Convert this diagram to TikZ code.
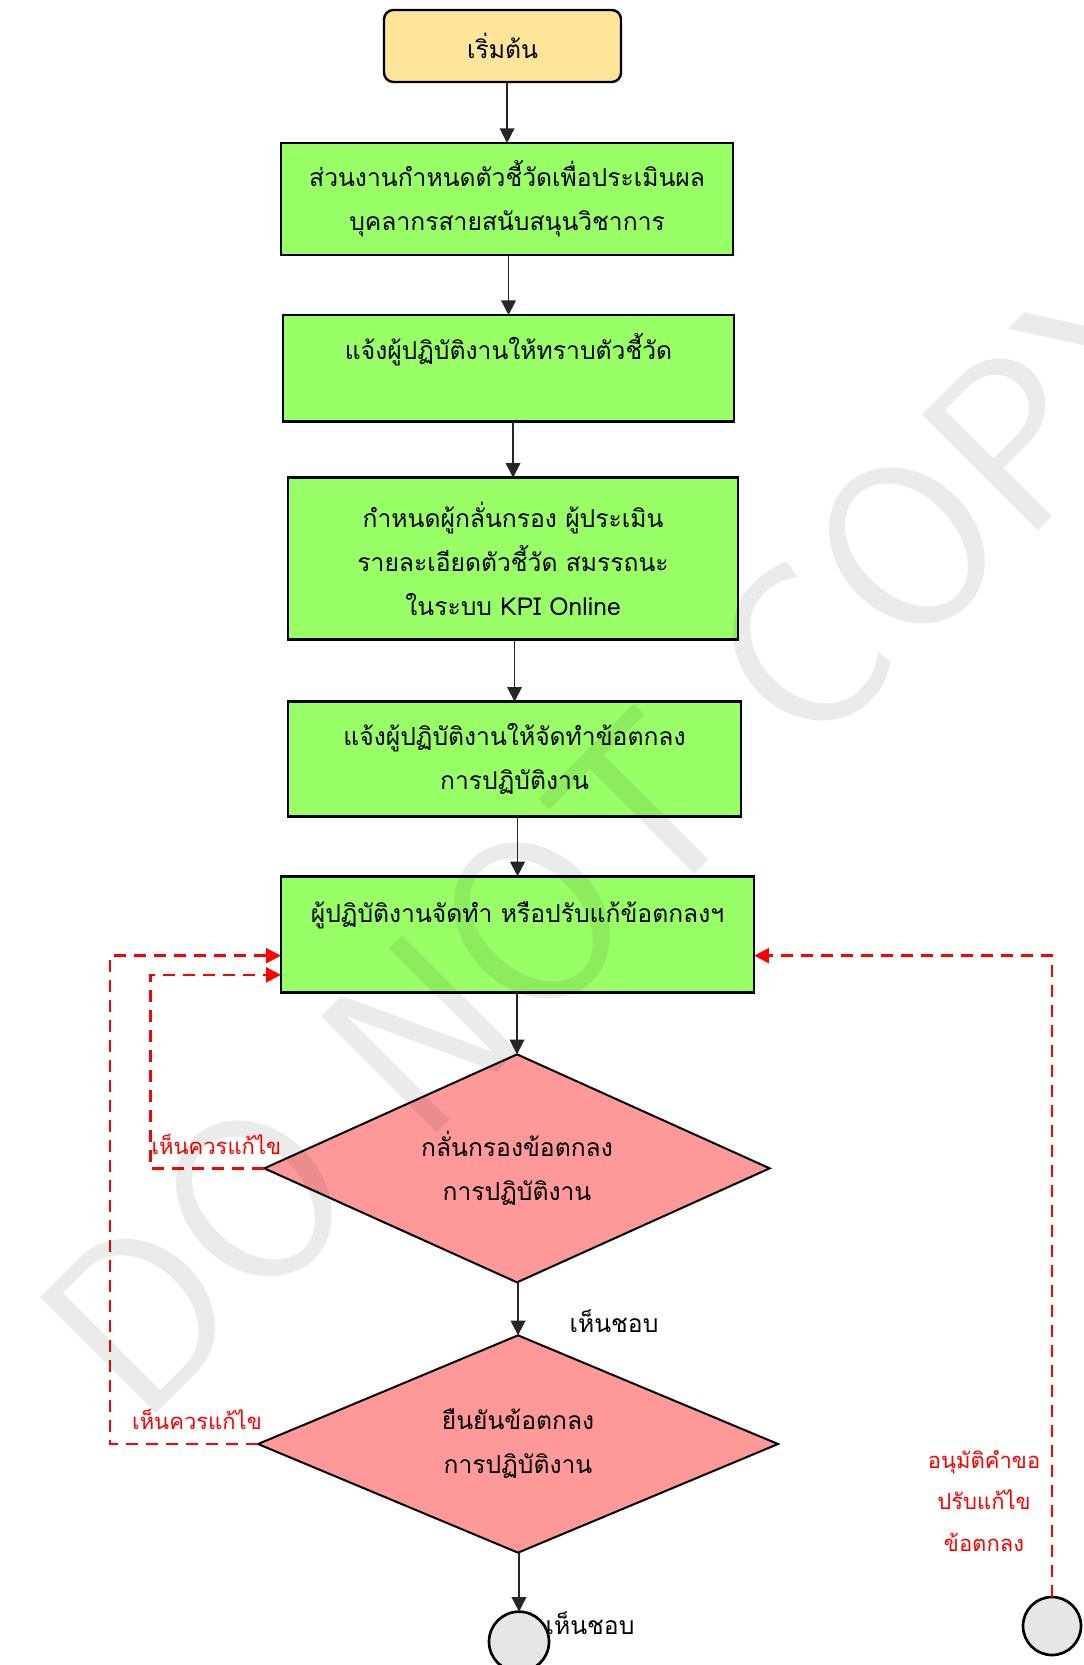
\documentclass[tikz,border=0pt]{standalone}
\usepackage{fontspec}
\setmainfont{Loma}[Script=Thai]
\usepackage{tikz}
\usetikzlibrary{arrows.meta,positioning,shapes.geometric}
\definecolor{startyellow}{RGB}{255,229,153}
\definecolor{stepgreen}{RGB}{153,255,102}
\definecolor{checkpink}{RGB}{255,153,153}
\definecolor{endgray}{RGB}{230,230,230}

\begin{document}
\begin{tikzpicture}[
    font=\fontsize{18.5pt}{33pt}\selectfont,
    every node/.style={outer sep=0pt},
    startbox/.style={rectangle, rounded corners=7pt, draw, line width=1.8pt, fill=startyellow, minimum width=177.75pt, minimum height=54pt, align=center},
    box/.style={rectangle, draw, line width=1.8pt, fill=stepgreen, align=center, inner sep=0pt},
    check/.style={diamond, draw, line width=1.5pt, fill=checkpink, align=center, inner sep=0pt, shape aspect=2.3},
    endpoint/.style={circle, draw, line width=2pt, fill=endgray, inner sep=0pt},
    arrow/.style={-{Triangle[length=11pt,width=11pt]}, line width=1.2pt, black!85},
    fb/.style={-{Triangle[length=11pt,width=11pt]}, line width=2pt, red, dash pattern=on 9pt off 6pt},
    note/.style={text=red, align=center, font=\fontsize{16.5pt}{31pt}\selectfont}
]
    \useasboundingbox (0,0) rectangle (812.25pt,-1248.75pt);

    \node[startbox] (start) at (376.9pt,-34.5pt) {เริ่มต้น};
    \node[box, minimum width=339pt, minimum height=84pt, below=45.75pt of start, xshift=3.4pt] (define) {ส่วนงานกำหนดตัวชี้วัดเพื่อประเมินผล\\บุคลากรสายสนับสนุนวิชาการ};
    \node[box, minimum width=338pt, minimum height=80pt, below=45pt of define, xshift=1.1pt] (inform) {แจ้งผู้ปฏิบัติงานให้ทราบตัวชี้วัด\\~};
    \node[box, minimum width=337.5pt, minimum height=121.5pt, below=42pt of inform, xshift=3.4pt] (setup) {กำหนดผู้กลั่นกรอง ผู้ประเมิน\\รายละเอียดตัวชี้วัด สมรรถนะ\\ในระบบ KPI Online};
    \node[box, minimum width=340pt, minimum height=86pt, below=46.5pt of setup, xshift=1.1pt] (notify) {แจ้งผู้ปฏิบัติงานให้จัดทำข้อตกลง\\การปฏิบัติงาน};
    \node[box, minimum width=355pt, minimum height=87pt, below=45pt of notify, xshift=2.25pt] (draft) {ผู้ปฏิบัติงานจัดทำ หรือปรับแก้ข้อตกลงฯ\\~};
    \node[check, minimum width=379pt, minimum height=171pt, below=46.5pt of draft, xshift=-0.4pt] (screen) {กลั่นกรองข้อตกลง\\การปฏิบัติงาน};
    \node[check, minimum width=390pt, minimum height=163pt, below=39.75pt of screen, xshift=0.75pt] (confirm) {ยืนยันข้อตกลง\\การปฏิบัติงาน};
    \node[endpoint, minimum size=45pt, below=44.25pt of confirm, xshift=0.75pt] (done) {};
    \node[endpoint, minimum size=43.5pt] (revise) at (789pt,-1219.5pt) {};

    \draw[arrow] (start.south -| define) -- (define.north);
    \draw[arrow] (define.south -| inform) -- (inform.north);
    \draw[arrow] (inform.south -| setup) -- (setup.north);
    \draw[arrow] (setup.south -| notify) -- (notify.north);
    \draw[arrow] (notify.south -| draft) -- (draft.north);
    \draw[arrow] (draft.south -| screen) -- (screen.north);
    \draw[arrow] (screen.south -| confirm) -- (confirm.north);
    \draw[arrow] (confirm.south -| done) -- (done.north);

    % send back for changes
    \draw[fb] (screen.west) -- ++(-85.5pt,0) |- ([yshift=-30.4pt]draft.west);
    \draw[fb] (confirm.west) -- ++(-111pt,0) |- ([yshift=-16pt]draft.west);
    \draw[fb] (revise.north) |- ([yshift=-16pt]draft.east);

    \node[note] (fix1) at ([shift={(-36pt,18pt)}]screen.west) {เห็นควรแก้ไข};
    \node[note] (fix2) at ([shift={(-45.75pt,18.75pt)}]confirm.west) {เห็นควรแก้ไข};
    \node[note] (approve) at ([shift={(-51pt,93.75pt)}]revise) {อนุมัติคำขอ\\ปรับแก้ไข\\ข้อตกลง};
    \node (ok1) at ([shift={(72pt,10.5pt)}]confirm.north) {เห็นชอบ};
    \node (ok2) at ([shift={(53.25pt,14.25pt)}]done) {เห็นชอบ};

    % watermark
    \node[rotate=45, text=black, text opacity=0.08, font=\sffamily\fontsize{177pt}{177pt}\selectfont] (stamp) at (470pt,-620pt) {DO NOT COPY};
\end{tikzpicture}
\end{document}
